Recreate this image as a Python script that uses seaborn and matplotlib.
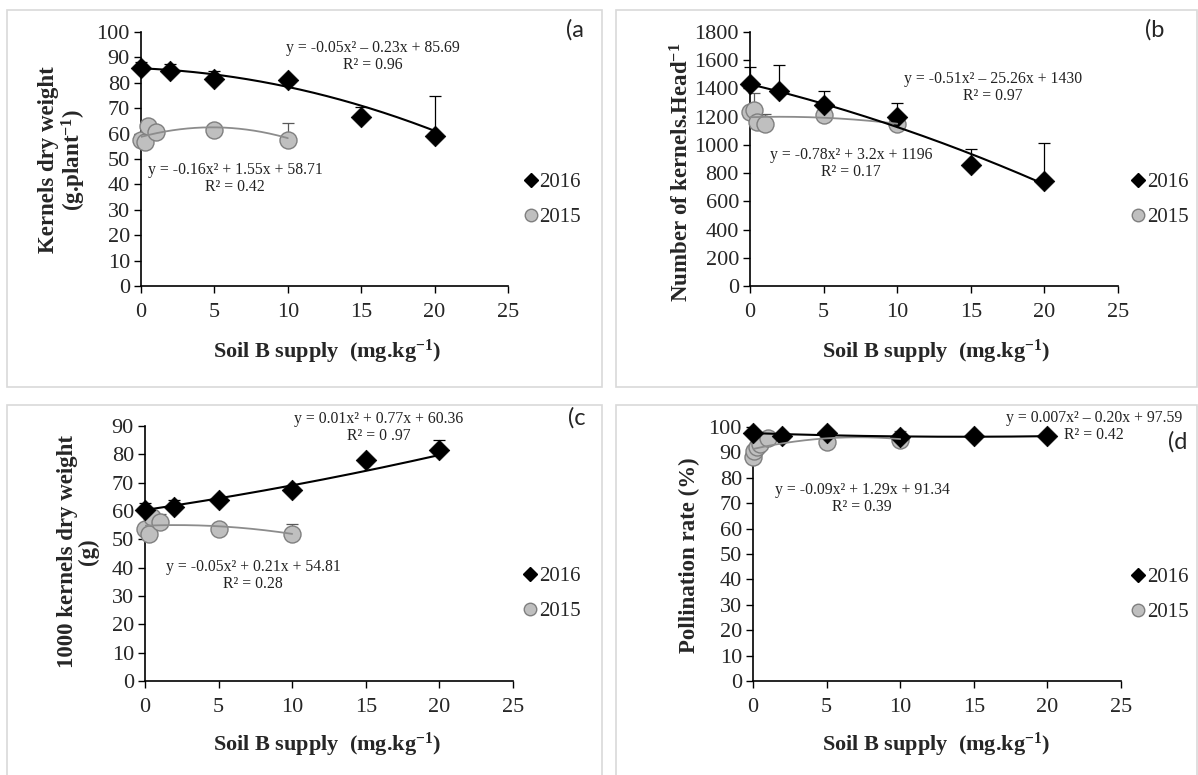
import matplotlib
matplotlib.use("Agg")
import matplotlib.pyplot as plt
from matplotlib.patches import Rectangle
from matplotlib.lines import Line2D
import numpy as np
import seaborn as sns

# ---- data ----
x16 = [0, 2, 5, 10, 15, 20]
x15 = [0, 0.25, 0.5, 1, 5, 10]
x15_d = [0, 0.1, 0.25, 0.5, 1, 5, 10]

# (a) kernels dry weight
a16 = [86, 84.5, 81.5, 81, 66.5, 59]
a16_err = [2, 3, 3, 0, 4, 16]
a15 = [57.5, 56.5, 63, 60.5, 61.5, 57.5]
a15_err = [0, 0, 0, 0, 0, 6.5]
a16_coef = [-0.05, -0.23, 85.69]
a15_coef = [-0.16, 1.55, 58.71]

# (b) number of kernels per head
b16 = [1430, 1380, 1285, 1200, 860, 745]
b16_err = [120, 185, 95, 100, 110, 265]
b15 = [1230, 1245, 1160, 1145, 1215, 1150]
b15_err = [0, 120, 0, 75, 0, 0]
b16_coef = [-0.51, -25.26, 1430]
b15_coef = [-0.78, 3.2, 1196]

# (c) 1000 kernels dry weight
c16 = [60.5, 61.5, 64, 67.5, 78, 81.5]
c16_err = [2.5, 2.5, 0, 0, 0, 3.5]
c15 = [53.5, 52, 58, 56, 53.5, 52]
c15_err = [0, 0, 0, 3, 0, 3.5]
c16_coef = [0.01, 0.77, 60.36]
c15_coef = [-0.05, 0.21, 54.81]

# (d) pollination rate
d16 = [97.5, 96.5, 97.5, 96, 96.5, 96.5]
d16_err = [0, 0, 0, 0, 0, 0]
d15 = [88, 90.5, 92, 93.5, 95.5, 94, 95]
d15_err = [0, 0, 0, 0, 2, 0, 3.5]
d16_coef = [0.007, -0.20, 97.59]
d15_coef = [-0.09, 1.29, 91.34]

W, H = 1198, 775
SERIF = ["Liberation Serif", "DejaVu Serif"]

sns.set_theme(style="white")
plt.rcParams["font.family"] = SERIF
plt.rcParams["mathtext.fontset"] = "custom"
plt.rcParams["mathtext.rm"] = "Liberation Serif:bold"
plt.rcParams["mathtext.it"] = "Liberation Serif:bold"
plt.rcParams["mathtext.bf"] = "Liberation Serif:bold"

fig = plt.figure(figsize=(W / 100, H / 100), dpi=100)


def px_text(x, y, s, **kw):
    fig.text(x / W, 1 - y / H, s, **kw)


def add_axes(l, t, r, b):
    return fig.add_axes([l / W, 1 - b / H, (r - l) / W, (b - t) / H])


# panel boxes
for (l, t, r, b) in [(7, 10, 602, 387), (616, 10, 1197, 387),
                     (7, 405, 602, 790), (616, 405, 1197, 790)]:
    fig.patches.append(Rectangle((l / W, 1 - b / H), (r - l) / W, (b - t) / H,
                                 transform=fig.transFigure, fill=False,
                                 edgecolor="#d9d9d9", lw=1.2))

SUP = r"$^{\mathregular{-1}}$"
XLAB = "Soil B supply  (mg.kg" + SUP + ")"

panels = [
    dict(box=(141, 32, 508, 286), ylim=100, step=10,
         s16=a16, e16=a16_err, s15=a15, e15=a15_err, x15=x15,
         k16=a16_coef, k15=a15_coef,
         eq16="y = -0.05x² – 0.23x + 85.69", r16="R² = 0.96", p16=(373, 48),
         eq15="y = -0.16x² + 1.55x + 58.71", r15="R² = 0.42", p15=(235, 170),
         tag="(a", tagpos=(575, 30), leg=(524, 200),
         ylab="Kernels dry weight\n(g.plant" + SUP + ")", ylabpos=(63, 160),
         xlabpos=(327, 352)),
    dict(box=(750, 32, 1118, 286), ylim=1800, step=200,
         s16=b16, e16=b16_err, s15=b15, e15=b15_err, x15=x15,
         k16=b16_coef, k15=b15_coef,
         eq16="y = -0.51x² – 25.26x + 1430", r16="R² = 0.97", p16=(993, 79),
         eq15="y = -0.78x² + 3.2x + 1196", r15="R² = 0.17", p15=(851, 155),
         tag="(b", tagpos=(1155, 30), leg=(1131, 200),
         ylab="Number of kernels.Head" + SUP, ylabpos=(682, 172),
         xlabpos=(936, 352)),
    dict(box=(145, 426, 513, 681), ylim=90, step=10,
         s16=c16, e16=c16_err, s15=c15, e15=c15_err, x15=x15,
         k16=c16_coef, k15=c15_coef,
         eq16="y = 0.01x² + 0.77x + 60.36", r16="R² = 0 .97", p16=(379, 419),
         eq15="y = -0.05x² + 0.21x + 54.81", r15="R² = 0.28", p15=(253, 567),
         tag="(c", tagpos=(577, 418), leg=(523, 594),
         ylab="1000 kernels dry weight\n(g)", ylabpos=(78, 552),
         xlabpos=(327, 745)),
    dict(box=(753, 427, 1121, 681), ylim=100, step=10,
         s16=d16, e16=d16_err, s15=d15, e15=d15_err, x15=x15_d,
         k16=d16_coef, k15=d15_coef,
         eq16="y = 0.007x² – 0.20x + 97.59", r16="R² = 0.42", p16=(1094, 418),
         eq15="y = -0.09x² + 1.29x + 91.34", r15="R² = 0.39", p15=(862, 490),
         tag="(d", tagpos=(1178, 442), leg=(1131, 595),
         ylab="Pollination rate (%)", ylabpos=(689, 555),
         xlabpos=(936, 745)),
]

GRAY_FACE = "#bfbfbf"
GRAY_EDGE = "#7f7f7f"

for p in panels:
    ax = add_axes(*p["box"])
    x15p = p["x15"]

    # error bars (upper only)
    ax.errorbar(x16, p["s16"], yerr=[np.zeros(len(x16)), p["e16"]],
                fmt="none", ecolor="black", elinewidth=0.9, capsize=4,
                capthick=0.9, zorder=2, clip_on=False)
    ax.errorbar(x15p, p["s15"], yerr=[np.zeros(len(x15p)), p["e15"]],
                fmt="none", ecolor="#595959", elinewidth=0.9, capsize=4,
                capthick=0.9, zorder=2, clip_on=False)

    # points
    sns.scatterplot(x=x15p, y=p["s15"], ax=ax, marker="o", s=150,
                    color=GRAY_FACE, edgecolor=GRAY_EDGE, linewidth=1,
                    zorder=3, clip_on=False, legend=False)
    sns.scatterplot(x=x16, y=p["s16"], ax=ax, marker="D", s=110,
                    color="black", edgecolor="black", linewidth=0.5,
                    zorder=4, clip_on=False, legend=False)

    # polynomial trendlines from printed equations
    xt16 = np.linspace(0, max(x16), 200)
    xt15 = np.linspace(0, max(x15p), 200)
    sns.lineplot(x=xt15, y=np.polyval(p["k15"], xt15), ax=ax,
                 color="#8c8c8c", lw=1.3, zorder=5, sort=False)
    sns.lineplot(x=xt16, y=np.polyval(p["k16"], xt16), ax=ax,
                 color="black", lw=1.5, zorder=6, sort=False)

    ax.set_xlim(0, 25)
    ax.set_ylim(0, p["ylim"])
    ax.set_xticks(range(0, 26, 5))
    ax.set_yticks(np.arange(0, p["ylim"] + 1, p["step"]))
    for s in ["top", "right"]:
        ax.spines[s].set_visible(False)
    for s in ["left", "bottom"]:
        ax.spines[s].set_color("black")
        ax.spines[s].set_linewidth(1.2)
    ax.tick_params(axis="both", direction="out", length=5, width=1,
                   color="black", labelsize=16, pad=3,
                   left=True, bottom=True)
    ax.tick_params(axis="x", pad=7)
    ax.set_xlabel("")
    ax.set_ylabel("")
    ax.set_facecolor("none")

    # equations
    x, y = p["p16"]
    px_text(x, y, p["eq16"], ha="center", va="center", fontsize=11.3, color="#222222")
    px_text(x, y + 17, p["r16"], ha="center", va="center", fontsize=11.3, color="#222222")
    x, y = p["p15"]
    px_text(x, y, p["eq15"], ha="center", va="center", fontsize=11.3, color="#222222")
    px_text(x, y + 17, p["r15"], ha="center", va="center", fontsize=11.3, color="#222222")

    # panel tag
    px_text(*p["tagpos"], p["tag"], ha="center", va="center", fontsize=17,
            family=["Lato", "DejaVu Sans"])

    # axis labels
    px_text(*p["ylabpos"], p["ylab"], ha="center", va="center", rotation=90,
            fontsize=16.5, fontweight="bold", linespacing=1.0)
    px_text(*p["xlabpos"], XLAB, ha="center",
            va="center", fontsize=16, fontweight="bold")

    # legend
    handles = [
        Line2D([], [], marker="D", ls="none", color="black", markersize=7),
        Line2D([], [], marker="o", ls="none", markerfacecolor=GRAY_FACE,
               markeredgecolor=GRAY_EDGE, markersize=9),
    ]
    lx, ly = p["leg"]
    ax.legend(handles, ["2016", "2015"], loc="center left",
              bbox_to_anchor=(lx / W, 1 - ly / H),
              bbox_transform=fig.transFigure, frameon=False,
              handlelength=0.7, handletextpad=0.05, labelspacing=0.75,
              fontsize=15, borderaxespad=0, borderpad=0)

fig.savefig("out.png", dpi=100)
plt.close(fig)
